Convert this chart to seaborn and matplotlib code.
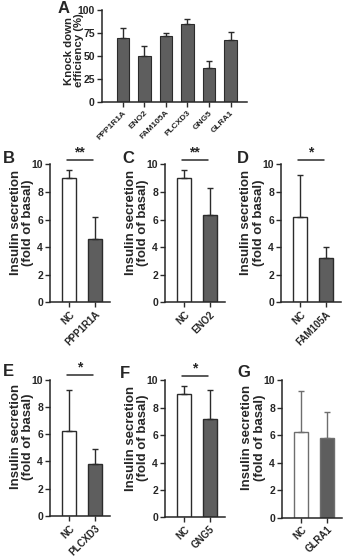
import numpy as np
import matplotlib
matplotlib.use('Agg')
import matplotlib.pyplot as plt
import seaborn as sns

# Panel A: knock down efficiency
genes = ['PPP1R1A', 'ENO2', 'FAM105A', 'PLCXD3', 'GNG5', 'GLRA1']
kd_eff = [70, 50, 71.5, 85, 37, 67.5]
kd_eff_err = [10, 11, 3.5, 5.5, 8, 9]

# Panels B-G: insulin secretion (fold of basal)
nc_mean = [9.0, 9.0, 6.2, 6.2, 9.0, 6.2]
nc_err = [0.6, 0.6, 3.0, 3.0, 0.6, 3.0]
kd_mean = [4.6, 6.3, 3.2, 3.8, 7.2, 5.8]
kd_err = [1.6, 2.0, 0.8, 1.1, 2.1, 1.9]
sig = ['**', '**', '*', '*', '*', '']
letters = ['B', 'C', 'D', 'E', 'F', 'G']

sns.set_style('ticks')
plt.rcParams['font.family'] = ['Liberation Sans', 'DejaVu Sans']
plt.rcParams['font.weight'] = 'bold'
plt.rcParams['axes.labelweight'] = 'bold'
plt.rcParams['axes.linewidth'] = 1.1

W, H = 345, 558
fig = plt.figure(figsize=(W / 100, H / 100), dpi=100)

dark = '#5e5e5e'
edge = '#2b2b2b'


def rect(left, top, right, bottom):
    return [left / W, 1 - bottom / H, (right - left) / W, (bottom - top) / H]


def style_ticks(ax, xsize):
    ax.tick_params(axis='both', direction='out', length=3.5, width=1, color=edge, pad=1.5)
    ax.tick_params(axis='y', labelsize=7.5)
    for lab in ax.get_yticklabels():
        lab.set_fontweight('bold')
    ax.set_xticks(ax.get_xticks())
    ax.set_xticklabels([t.get_text() for t in ax.get_xticklabels()], rotation=45,
                       ha='right', rotation_mode='anchor', fontsize=xsize, fontweight='bold')
    sns.despine(ax=ax)


# ---- panel A
axA = fig.add_axes(rect(101.7, 10, 246.7, 102.3))
sns.barplot(x=genes, y=kd_eff, color=dark, edgecolor=edge, linewidth=0.8,
            width=0.57, errorbar=None, ax=axA)
axA.errorbar(x=np.arange(len(genes)), y=kd_eff, yerr=[np.zeros(len(genes)), kd_eff_err],
             fmt='none', ecolor=edge, elinewidth=1, capsize=2.2, capthick=1)
axA.set_ylim(0, 100)
axA.set_yticks([0, 25, 50, 75, 100])
axA.set_xlim(-0.98, 5.75)
axA.set_ylabel('Knock down\nefficiency (%)', fontsize=8.2, linespacing=1.0)
axA.yaxis.set_label_coords(-0.125, 0.56)
style_ticks(axA, 6)
fig.text(58 / W, 1 - 1 / H, 'A', fontsize=12, fontweight='bold', va='top', ha='left')

# ---- panels B-G
lefts = [50, 165, 281, 50, 165, 282]
tops = [164.3, 164.3, 164.3, 379.5, 380.5, 380]
bottoms = [302.3, 302.3, 302.3, 516, 517.3, 517.7]
letter_pos = [(3, 151), (122, 151), (237, 151), (3, 364), (120, 366), (237, 365)]

for i, gene in enumerate(genes):
    ax = fig.add_axes(rect(lefts[i], tops[i], lefts[i] + 60, bottoms[i]))
    cats = ['NC', gene]
    vals = [nc_mean[i], kd_mean[i]]
    errs = [nc_err[i], kd_err[i]]
    ec = '#6e6e6e' if gene == 'GLRA1' else edge
    sns.barplot(x=cats, y=vals, hue=cats, palette=['white', dark], edgecolor=ec,
                linewidth=1, width=0.55, errorbar=None, legend=False, ax=ax)
    ax.errorbar(x=[0, 1], y=vals, yerr=[[0, 0], errs], fmt='none', ecolor=ec,
                elinewidth=1, capsize=2.5, capthick=1)
    ax.set_ylim(0, 10)
    ax.set_yticks([0, 2, 4, 6, 8, 10])
    ax.set_xlim(-0.75, 1.6)
    ax.set_ylabel('Insulin secretion\n(fold of basal)', fontsize=9.5, linespacing=1.1)
    ax.yaxis.set_label_coords(-0.26, 0.58)
    style_ticks(ax, 7)
    if sig[i]:
        ax.plot([-0.1, 0.95], [10.3, 10.3], color=edge, lw=1.1, clip_on=False)
        ax.text(0.42, 10.35, sig[i], ha='center', va='bottom', fontsize=10,
                fontweight='bold')
    lx, ly = letter_pos[i]
    fig.text(lx / W, 1 - ly / H, letters[i], fontsize=12, fontweight='bold',
             va='top', ha='left')

fig.savefig('out.png', dpi=100, facecolor='white')
